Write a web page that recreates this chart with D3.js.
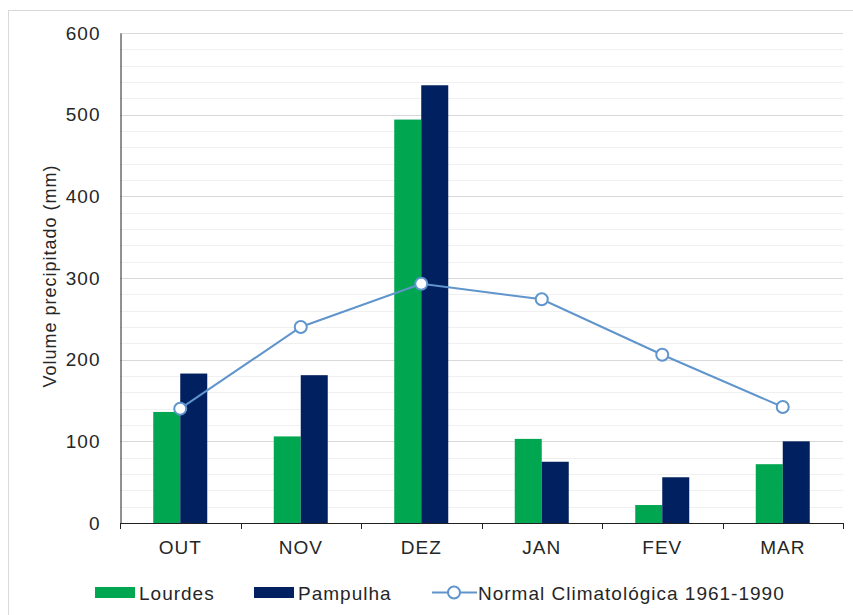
<!DOCTYPE html>
<html>
    <head>
        <meta charset="utf-8">
        <script src="https://d3js.org/d3.v7.min.js"></script>
        <style>
            body { margin: 0; background: #fff; }
            text { font-family: Arial, 'Liberation Sans', sans-serif; fill: #262626; letter-spacing: 1px; }
        </style>
    </head>
    <body>
        <script type='text/javascript'>
            var w = 853;
            var h = 615;

            // data
            var months = ['OUT', 'NOV', 'DEZ', 'JAN', 'FEV', 'MAR'];
            var lourdes = [136, 106, 494, 103, 22, 72];
            var pampulha = [183, 181, 536, 75, 56, 100];
            var normal = [140, 240, 293, 274, 206, 142];
            var yTicks = [0, 100, 200, 300, 400, 500, 600];
            var seriesNames = ['Lourdes', 'Pampulha', 'Normal Climatológica 1961-1990'];

            var green = '#00a650';
            var navy = '#002060';
            var blue = '#5f95cc';
            var font = 'Arial, "Liberation Sans", sans-serif';

            var pLeft = 120, pRight = 843, pTop = 33, pBottom = 523;

            var svg = d3.select('body')
                        .append('svg')
                        .attr('width', w)
                        .attr('height', h);

            // outer frame
            svg.append('rect')
                .attr('x', 8.5)
                .attr('y', 10.5)
                .attr('width', w)
                .attr('height', h)
                .attr('fill', 'none')
                .attr('stroke', '#d9d9d9');

            //Create scales
            var xScale = d3.scaleBand()
                            .domain(months)
                            .range([pLeft, pRight]);

            var xInner = d3.scaleBand()
                            .domain([0, 1])
                            .range([0, 54]);

            var yScale = d3.scaleLinear()
                            .domain([0, 600])
                            .range([pBottom, pTop]);

            // minor grid
            svg.append('g')
                .selectAll('line')
                .data(d3.range(0, 601, 20).filter(function(d) { return d % 100 !== 0; }))
                .enter()
                .append('line')
                .attr('x1', pLeft).attr('x2', pRight)
                .attr('y1', function(d) { return Math.round(yScale(d)) + 0.5; })
                .attr('y2', function(d) { return Math.round(yScale(d)) + 0.5; })
                .attr('stroke', '#f0f0f0');

            // major grid
            svg.append('g')
                .selectAll('line')
                .data(yTicks.slice(1))
                .enter()
                .append('line')
                .attr('x1', pLeft).attr('x2', pRight)
                .attr('y1', function(d) { return Math.round(yScale(d)) + 0.5; })
                .attr('y2', function(d) { return Math.round(yScale(d)) + 0.5; })
                .attr('stroke', '#d9d9d9');

            // bars
            var groups = [lourdes, pampulha];
            var colors = [green, navy];
            groups.forEach(function(vals, s) {
                svg.append('g')
                    .selectAll('rect')
                    .data(vals)
                    .enter()
                    .append('rect')
                    .attr('x', function(d, i) {
                        return xScale(months[i]) + xScale.bandwidth() / 2 - 27 + xInner(s);
                    })
                    .attr('y', function(d) { return yScale(d); })
                    .attr('width', xInner.bandwidth())
                    .attr('height', function(d) { return pBottom - yScale(d); })
                    .attr('fill', colors[s]);
            });

            // line series
            var line = d3.line()
                        .x(function(d, i) { return xScale(months[i]) + xScale.bandwidth() / 2; })
                        .y(function(d) { return yScale(d); });

            svg.append('path')
                .datum(normal)
                .attr('d', line)
                .attr('fill', 'none')
                .attr('stroke', blue)
                .attr('stroke-width', 2);

            svg.append('g')
                .selectAll('circle')
                .data(normal)
                .enter()
                .append('circle')
                .attr('cx', function(d, i) { return xScale(months[i]) + xScale.bandwidth() / 2; })
                .attr('cy', function(d) { return yScale(d); })
                .attr('r', 6)
                .attr('fill', '#fff')
                .attr('stroke', blue)
                .attr('stroke-width', 2);

            //Create X and Y axis
            var yAxis = d3.axisLeft(yScale)
                            .tickValues(yTicks)
                            .tickSize(0)
                            .tickPadding(20);

            var gy = svg.append('g')
                .attr('transform', 'translate(' + (pLeft + 0.5) + ',0)')
                .call(yAxis);
            gy.select('.domain').attr('stroke', '#222');
            gy.selectAll('text').attr('font-size', '19px').attr('fill', '#262626')
                .style('font-family', font);

            var xAxis = d3.axisBottom(xScale).tickSize(0).tickPadding(17);
            var gx = svg.append('g')
                .attr('transform', 'translate(0,' + (pBottom + 0.5) + ')')
                .call(xAxis);
            gx.select('.domain').attr('stroke', '#222').attr('d', 'M' + pLeft + ',0H' + pRight);
            gx.selectAll('text').attr('font-size', '19px').attr('fill', '#262626')
                .style('font-family', font);

            // ticks between categories
            svg.append('g')
                .selectAll('line')
                .data(months.concat(['end']))
                .enter()
                .append('line')
                .attr('x1', function(d, i) { return Math.round(i < months.length ? xScale(d) : pRight) + 0.5; })
                .attr('x2', function(d, i) { return Math.round(i < months.length ? xScale(d) : pRight) + 0.5; })
                .attr('y1', pBottom)
                .attr('y2', pBottom + 6)
                .attr('stroke', '#222');

            // y title
            svg.append('text')
                .attr('transform', 'translate(56,' + 276 + ') rotate(-90)')
                .attr('text-anchor', 'middle')
                .attr('font-size', '18px')
                .text('Volume precipitado (mm)');

            // legend
            var lg = svg.append('g').attr('font-size', '19px');
            lg.append('rect').attr('x', 95).attr('y', 587).attr('width', 40).attr('height', 11).attr('fill', green);
            lg.append('text').attr('x', 139).attr('y', 600).text(seriesNames[0]);
            lg.append('rect').attr('x', 254).attr('y', 587).attr('width', 40).attr('height', 11).attr('fill', navy);
            lg.append('text').attr('x', 298).attr('y', 600).text(seriesNames[1]);
            lg.append('line').attr('x1', 432).attr('x2', 477).attr('y1', 592.5).attr('y2', 592.5)
                .attr('stroke', blue).attr('stroke-width', 2);
            lg.append('circle').attr('cx', 454).attr('cy', 592.5).attr('r', 6)
                .attr('fill', '#fff').attr('stroke', blue).attr('stroke-width', 2);
            lg.append('text').attr('x', 478).attr('y', 600).text(seriesNames[2]);
        </script>
    </body>
</html>
